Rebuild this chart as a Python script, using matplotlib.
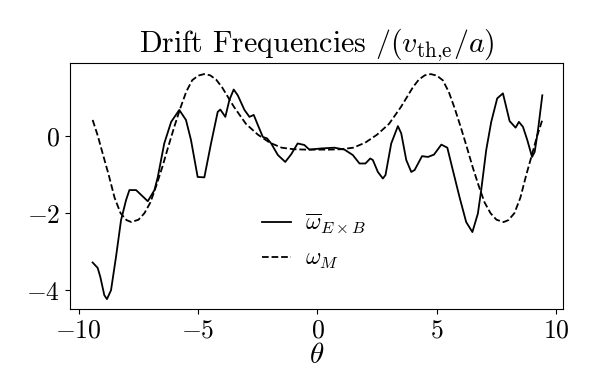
import numpy as np
import matplotlib
matplotlib.use("Agg")
import matplotlib.pyplot as plt

plt.rcParams['font.family'] = 'cmr10'
plt.rcParams['mathtext.fontset'] = 'cm'
plt.rcParams['axes.formatter.use_mathtext'] = True


# E x B drift frequency (solid)
theta_exb = [
    -9.42, -9.21, -9.10, -8.93, -8.82, -8.65, -8.44, -8.23, -8.02, -7.88,
    -7.60, -7.11, -6.83, -6.69, -6.42, -6.13, -5.79, -5.51, -5.30, -5.02,
    -4.74, -4.46, -4.18, -4.07, -3.86, -3.69, -3.51, -3.34, -3.06, -2.85,
    -2.67, -2.50, -2.29, -2.11, -1.94, -1.66, -1.35, -1.10, -0.83, -0.55,
    -0.34, 0.15, 0.71, 1.13, 1.48, 1.76, 2.01, 2.21, 2.32, 2.53,
    2.74, 2.85, 3.09, 3.37, 3.51, 3.72, 3.93, 4.07, 4.38, 4.63,
    4.88, 5.19, 5.44, 5.67, 5.95, 6.23, 6.49, 6.72, 6.86, 7.07,
    7.28, 7.53, 7.77, 8.05, 8.30, 8.44, 8.61, 8.79, 8.99, 9.10,
    9.24, 9.42
]
omega_exb = [
    -3.28, -3.42, -3.65, -4.13, -4.23, -4.00, -3.13, -2.18, -1.66, -1.40,
    -1.40, -1.69, -1.40, -1.06, -0.19, 0.37, 0.68, 0.42, -0.10, -1.06,
    -1.07, -0.19, 0.63, 0.69, 0.50, 0.94, 1.21, 1.06, 0.68, 0.50,
    0.55, 0.29, -0.02, -0.06, -0.19, -0.49, -0.67, -0.47, -0.19, -0.23,
    -0.35, -0.32, -0.30, -0.35, -0.49, -0.71, -0.71, -0.58, -0.62, -0.93,
    -1.10, -1.01, -0.19, 0.26, 0.07, -0.62, -0.93, -0.88, -0.52, -0.54,
    -0.48, -0.22, -0.30, -0.88, -1.58, -2.23, -2.49, -2.01, -1.40, -0.36,
    0.37, 0.98, 1.11, 0.39, 0.22, 0.37, 0.24, -0.10, -0.54, -0.41,
    0.16, 1.06
]

# magnetic drift frequency (dashed)
theta_m = [
    -9.42, -9.20, -9.00, -8.75, -8.50, -8.25, -8.00, -7.80, -7.50, -7.25,
    -7.00, -6.75, -6.50, -6.25, -6.00, -5.75, -5.50, -5.25, -5.00, -4.75,
    -4.50, -4.25, -4.00, -3.50, -3.00, -2.50, -2.00, -1.50, -1.00, -0.50,
    0.00, 0.50, 1.00, 1.50, 2.00, 2.50, 3.00, 3.50, 4.00, 4.25,
    4.50, 4.75, 5.00, 5.25, 5.50, 5.75, 6.00, 6.25, 6.50, 6.75,
    7.00, 7.25, 7.50, 7.80, 8.00, 8.25, 8.50, 8.75, 9.00, 9.20,
    9.42
]
omega_m = [
    0.42, 0.00, -0.45, -1.00, -1.60, -2.00, -2.18, -2.23, -2.17, -2.00,
    -1.72, -1.28, -0.80, -0.27, 0.24, 0.72, 1.15, 1.45, 1.57, 1.61,
    1.58, 1.47, 1.27, 0.76, 0.32, 0.04, -0.17, -0.30, -0.34, -0.35,
    -0.35, -0.35, -0.34, -0.30, -0.17, 0.04, 0.32, 0.76, 1.27, 1.47,
    1.58, 1.61, 1.57, 1.45, 1.15, 0.72, 0.24, -0.27, -0.80, -1.28,
    -1.72, -2.00, -2.17, -2.23, -2.18, -2.00, -1.60, -1.00, -0.45, 0.00,
    0.42
]


fig = plt.figure(figsize=(5.98, 3.68), dpi=100)
ax = fig.add_axes([0.117, 0.16, 0.825, 0.669])

ax.plot(
    theta_exb,
    omega_exb,
    color='black',
    linewidth=1.3,
    label=r'$\overline{\omega}_{E\times B}$'
)

ax.plot(
    theta_m,
    omega_m,
    color='black',
    linewidth=1.3,
    linestyle='--',
    label=r'$\omega_M$'
)

ax.set_xlim(-10.37, 10.3)
ax.set_ylim(-4.49, 1.9)
ax.set_xticks([-10, -5, 0, 5, 10])
ax.set_yticks([-4, -2, 0])
ax.tick_params(labelsize=18.5)

ax.set_title(r'Drift Frequencies $/(v_{\mathrm{th{,}e}}/a)$', fontsize=21.5)
ax.set_xlabel(r'$\theta$', fontsize=21)
ax.xaxis.set_label_coords(0.5, -0.137)

ax.legend(
    loc='center',
    bbox_to_anchor=(0.495, 0.275),
    frameon=False,
    fontsize=17,
    handlelength=1.2,
    handletextpad=0.6
)

fig.savefig("out.png", dpi=100)
